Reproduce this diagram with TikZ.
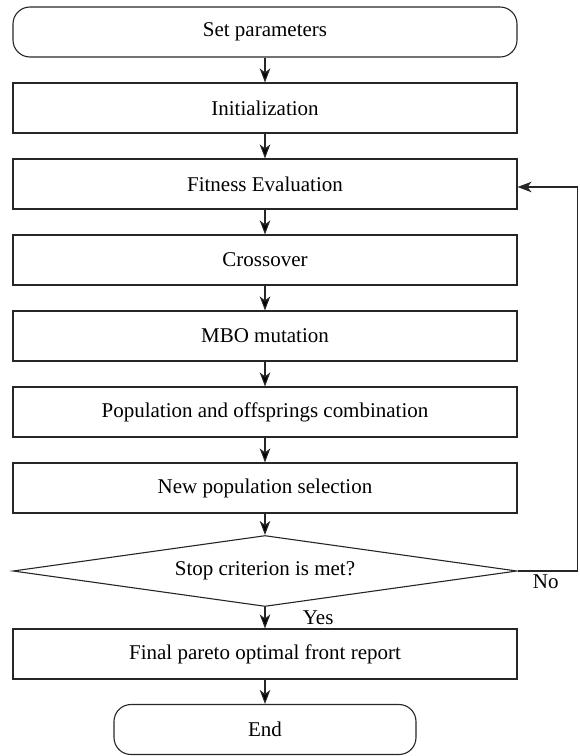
\documentclass[tikz,border=0pt]{standalone}
\usepackage{fontspec}
\setmainfont{Liberation Serif}
\usetikzlibrary{positioning, shapes.geometric, arrows.meta}

\tikzset{
  txt/.style={font=\fontsize{21}{25}\selectfont, text=black},
  terminal/.style={txt, draw=black!85, line width=1.1pt, rounded corners=17pt, minimum height=50pt},
  process/.style={txt, draw=black!85, line width=1.1pt, minimum width=504pt, minimum height=50pt},
  decision/.style={txt, draw=black!85, line width=1.1pt, diamond, aspect=7.1, inner sep=0pt,
    minimum width=504pt, minimum height=71pt}
}

\begin{document}
\begin{tikzpicture}[node distance=76pt, on grid, auto,
    >={Stealth[length=14pt, width=10.5pt, inset=4pt]}]
  \useasboundingbox (0pt,0pt) rectangle (580pt,-756pt);
  \node[terminal, minimum width=504pt] (set) at (265pt,-32pt) {Set parameters};
  \node[process] (init) [below=of set] {Initialization};
  \node[process] (fit) [below=of init] {Fitness Evaluation};
  \node[process] (cross) [below=of fit] {Crossover};
  \node[process] (mbo) [below=of cross] {MBO mutation};
  \node[process] (comb) [below=of mbo] {Population and offsprings combination};
  \node[process] (sel) [below=of comb] {New population selection};
  \node[decision] (stop) [below=83pt of sel] {Stop criterion is met?};
  \node[process] (final) [below=83pt of stop] {Final pareto optimal front report};
  \node[terminal, minimum width=302pt] (end) [below=75.5pt of final] {End};
  \coordinate[right=60pt of stop.east] (loop);
  \path[->, draw=black!85, line width=1.1pt]
    (set) edge (init)
    (init) edge (fit)
    (fit) edge (cross)
    (cross) edge (mbo)
    (mbo) edge (comb)
    (comb) edge (sel)
    (sel) edge (stop)
    (stop) edge node [txt, right=34pt] {Yes} (final)
    (final) edge (end);
  \draw[->, black!85, line width=1.1pt] (stop.east) -- node [txt, below, pos=.47] {No} (loop) |- ([yshift=-3pt]fit.east);
\end{tikzpicture}
\end{document}
